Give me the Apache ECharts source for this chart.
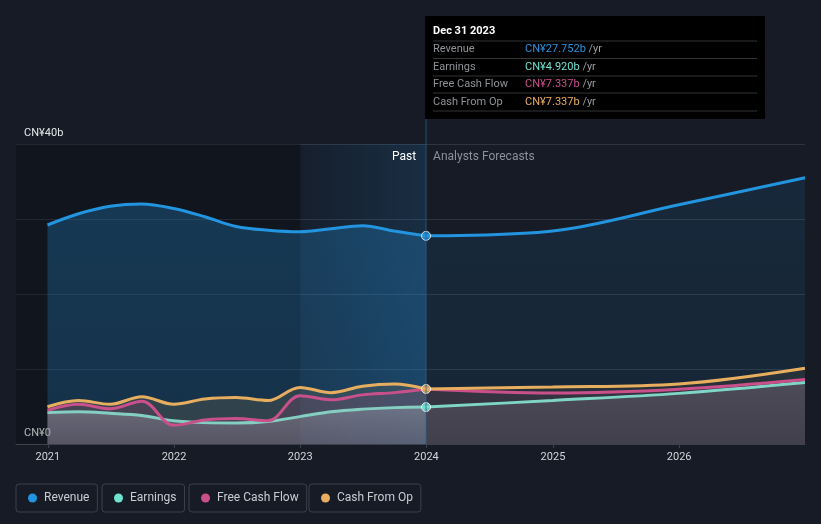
<!DOCTYPE html>
<html>
<head>
<meta charset="utf-8">
<script src="https://cdn.jsdelivr.net/npm/echarts@6/dist/echarts.min.js"></script>
<style>
html,body{margin:0;padding:0;background:#161b26;}
#c{width:821px;height:524px;}
</style>
</head>
<body>
<div id="c"></div>
<script>
// ---- data ----
const pastDates = ['2020-12-31','2021-03-31','2021-06-30','2021-09-30','2021-12-31','2022-03-31','2022-06-30','2022-09-30','2022-12-31','2023-03-31','2023-06-30','2023-09-30','2023-12-31'];
const revenuePast  = [29.2, 30.7, 31.7, 32.0, 31.4, 30.3, 29.0, 28.5, 28.3, 28.7, 29.1, 28.4, 27.752];
const earningsPast = [4.2, 4.3, 4.1, 3.8, 3.1, 2.85, 2.8, 3.0, 3.65, 4.3, 4.65, 4.85, 4.92];
const fcfPast      = [4.5, 5.3, 4.7, 5.7, 2.5, 3.2, 3.4, 3.1, 6.45, 5.9, 6.55, 6.85, 7.337];
const cfoPast      = [4.97, 5.8, 5.3, 6.3, 5.3, 6.0, 6.2, 5.8, 7.55, 6.85, 7.7, 8.0, 7.337];

const forecastDates = ['2023-12-31','2024-12-31','2025-12-31','2026-12-31'];
const revenueFc  = [27.752, 28.4, 31.9, 35.5];
const earningsFc = [4.92, 5.8, 6.75, 8.2];
const fcfFc      = [7.337, 6.8, 7.3, 8.6];
const cfoFc      = [7.337, 7.6, 8.0, 10.1];

const seriesNames = ['Revenue', 'Earnings', 'Free Cash Flow', 'Cash From Op'];
const tooltipDate = 'Dec 31 2023';
const axisMin = '2020-10-01';
const axisMax = '2026-12-31';
const highlightStart = '2023-01-01';
const yTicks = [0, 10, 20, 30, 40];

// ---- styles ----
const C = {rev:'#2394df', earn:'#6fe3d1', fcf:'#c9508b', cfo:'#e8ae5f'};
const pair = (d, v) => d.map((x, i) => [x, v[i]]);
const lineS = (name, d, v, color, w, z) => ({
  name, type:'line', data: pair(d, v), smooth: 0.35, showSymbol:false, symbol:'none',
  lineStyle:{color, width:w}, itemStyle:{color}, z: z || 5, silent:true
});
const areaS = (name, d, v, fill, z) => ({
  name, type:'line', data: pair(d, v), smooth: 0.35, showSymbol:false, symbol:'none',
  lineStyle:{width:0}, areaStyle:{color: fill, opacity:1}, z: z || 2, silent:true
});
const vgrad = (a, b) => new echarts.graphic.LinearGradient(0,0,0,1,[{offset:0,color:a},{offset:1,color:b}]);

const chart = echarts.init(document.getElementById('c'), null, {renderer:'canvas'});

const lastIdx = pastDates.length - 1;
const dotS = (name, val, color) => ({
  name, type:'scatter', data:[[pastDates[lastIdx], val]], symbol:'circle', symbolSize:9,
  itemStyle:{color, borderColor:'#ffffff', borderWidth:1}, z:10, silent:true
});

const legendBox = (name, left, color) => ({
  left, top: 484, data:[{name, itemStyle:{color}}], icon:'circle', itemWidth:9, itemHeight:9, itemGap:0,
  padding:[8,8,8,12], borderColor:'#3b404a', borderWidth:1, borderRadius:3,
  textStyle:{color:'#c9ccd1', fontSize:12, fontFamily:'Roboto', lineHeight:12, padding:[0,0,0,2]},
  selectedMode:false
});

const option = {
  backgroundColor:'#161b26',
  animation:false,
  textStyle:{fontFamily:'Roboto'},
  grid:{left:16, right:16, top:144, bottom:80, containLabel:false},
  xAxis:{
    type:'time', min:axisMin, max:axisMax,
    minInterval: 365*86400000, maxInterval: 366*86400000,
    axisLine:{show:true, lineStyle:{color:'#3d434e'}},
    axisTick:{show:true, length:4, lineStyle:{color:'#3d434e'}},
    splitLine:{show:false},
    axisLabel:{color:'#d4d6da', fontSize:11, margin:8, formatter:'{yyyy}', showMinLabel:false, showMaxLabel:false}
  },
  yAxis:{
    type:'value', min:yTicks[0], max:yTicks[yTicks.length-1], interval:10,
    axisLine:{show:false}, axisTick:{show:false},
    splitLine:{show:true, lineStyle:{color:'#2e3440', width:1}},
    axisLabel:{inside:true, margin:8, verticalAlign:'bottom', color:'#e4e6ea', fontSize:11, padding:[0,0,5,0],
      formatter: v => v === 0 ? 'CN¥0' : (v === 40 ? 'CN¥40b' : '')}
  },
  legend:[
    legendBox(seriesNames[0], 16, C.rev),
    legendBox(seriesNames[1], 102, C.earn),
    legendBox(seriesNames[2], 189, C.fcf),
    legendBox(seriesNames[3], 309, C.cfo)
  ],
  series:[
    // background regions
    {type:'line', name:'_bg', data:[], z:1, silent:true,
      markArea:{silent:true, data:[
        [{xAxis:axisMin, itemStyle:{color:'rgba(0,0,0,0.22)'}}, {xAxis:highlightStart}],
        [{xAxis:highlightStart, itemStyle:{color:new echarts.graphic.LinearGradient(0,0,1,0,[{offset:0,color:'rgba(35,140,215,0.03)'},{offset:1,color:'rgba(35,140,215,0.17)'}])},
          label:{show:true, position:'insideTopRight', formatter:'Past', color:'#ffffff', fontSize:12, offset:[-5,2]}},
         {xAxis:pastDates[lastIdx]}],
        [{xAxis:pastDates[lastIdx], itemStyle:{color:'rgba(0,0,0,0)'},
          label:{show:true, position:'insideTopLeft', formatter:'Analysts Forecasts', color:'#8b9099', fontSize:12, offset:[2,2]}},
         {xAxis:axisMax}]
      ]}
    },
    // areas
    areaS(seriesNames[0], pastDates, revenuePast, vgrad('rgba(35,148,223,0.28)','rgba(35,148,223,0.22)'), 2),
    areaS(seriesNames[0], forecastDates, revenueFc, vgrad('rgba(35,148,223,0.11)','rgba(35,148,223,0.09)'), 2),
    areaS(seriesNames[3], pastDates, cfoPast, 'rgba(232,174,95,0.13)', 3),
    areaS(seriesNames[3], forecastDates, cfoFc, 'rgba(232,174,95,0.08)', 3),
    areaS(seriesNames[2], pastDates, fcfPast, 'rgba(201,80,139,0.14)', 3),
    areaS(seriesNames[2], forecastDates, fcfFc, 'rgba(201,80,139,0.09)', 3),
    areaS(seriesNames[1], pastDates, earningsPast, vgrad('rgba(190,195,205,0.30)','rgba(150,155,165,0.22)'), 4),
    areaS(seriesNames[1], forecastDates, earningsFc, vgrad('rgba(160,160,170,0.22)','rgba(130,130,140,0.16)'), 4),
    // lines
    lineS(seriesNames[1], pastDates, earningsPast, '#84cfc2', 3, 5),
    lineS(seriesNames[1], forecastDates, earningsFc, '#7fd6c6', 3, 5),
    lineS(seriesNames[2], pastDates, fcfPast, C.fcf, 3, 6),
    lineS(seriesNames[2], forecastDates, fcfFc, C.fcf, 3, 6),
    lineS(seriesNames[3], pastDates, cfoPast, C.cfo, 3, 7),
    lineS(seriesNames[3], forecastDates, cfoFc, C.cfo, 3, 7),
    lineS(seriesNames[0], pastDates, revenuePast, C.rev, 3, 8),
    lineS(seriesNames[0], forecastDates, revenueFc, C.rev, 3, 8),
    dotS(seriesNames[0], revenuePast[lastIdx], C.rev),
    dotS(seriesNames[1], earningsPast[lastIdx], C.earn),
    dotS(seriesNames[3], cfoPast[lastIdx], C.cfo)
  ]
};
chart.setOption(option);

// tooltip-like box anchored at the last actual data point
const px = chart.convertToPixel({xAxisIndex:0}, pastDates[lastIdx]);
const botY = chart.convertToPixel({yAxisIndex:0}, 0);
const boxX = px - 1, boxY = 16, boxW = 340, boxH = 103;
const rows = [
  [seriesNames[0], revenuePast[lastIdx], C.rev],
  [seriesNames[1], earningsPast[lastIdx], C.earn],
  [seriesNames[2], fcfPast[lastIdx], C.fcf],
  [seriesNames[3], cfoPast[lastIdx], C.cfo]
];
const g = [
  {type:'line', shape:{x1:px, y1:boxY, x2:px, y2:botY}, style:{stroke:'rgba(50,95,135,0.75)', lineWidth:1}, z:50, silent:true},
  {type:'rect', shape:{x:boxX, y:boxY, width:boxW, height:boxH}, style:{fill:'#000000'}, z:60, silent:true},
  {type:'text', x:boxX+8, y:boxY+15, style:{text:tooltipDate, fill:'#ffffff', font:'bold 11px Roboto', verticalAlign:'middle'}, z:61, silent:true}
];
const lineYs = [25, 42.5, 60, 77, 95];
lineYs.forEach(ly => g.push({type:'line', shape:{x1:boxX+8, y1:boxY+ly, x2:boxX+boxW-8, y2:boxY+ly}, style:{stroke:'#333539', lineWidth:1}, z:61, silent:true}));
rows.forEach((r, i) => {
  const cy = boxY + 33.5 + i*17.5;
  g.push({type:'text', x:boxX+8, y:cy, style:{text:r[0], fill:'#8f9297', font:'11px Roboto', verticalAlign:'middle'}, z:61, silent:true});
  g.push({type:'text', x:boxX+100, y:cy, style:{
    text:'{v|CN¥' + r[1].toFixed(3) + 'b}{u| /yr}',
    rich:{v:{fill:r[2], font:'11px Roboto'}, u:{fill:'#9a9da2', font:'11px Roboto'}},
    verticalAlign:'middle'}, z:61, silent:true});
});
chart.setOption({graphic:g});
</script>
</body>
</html>
